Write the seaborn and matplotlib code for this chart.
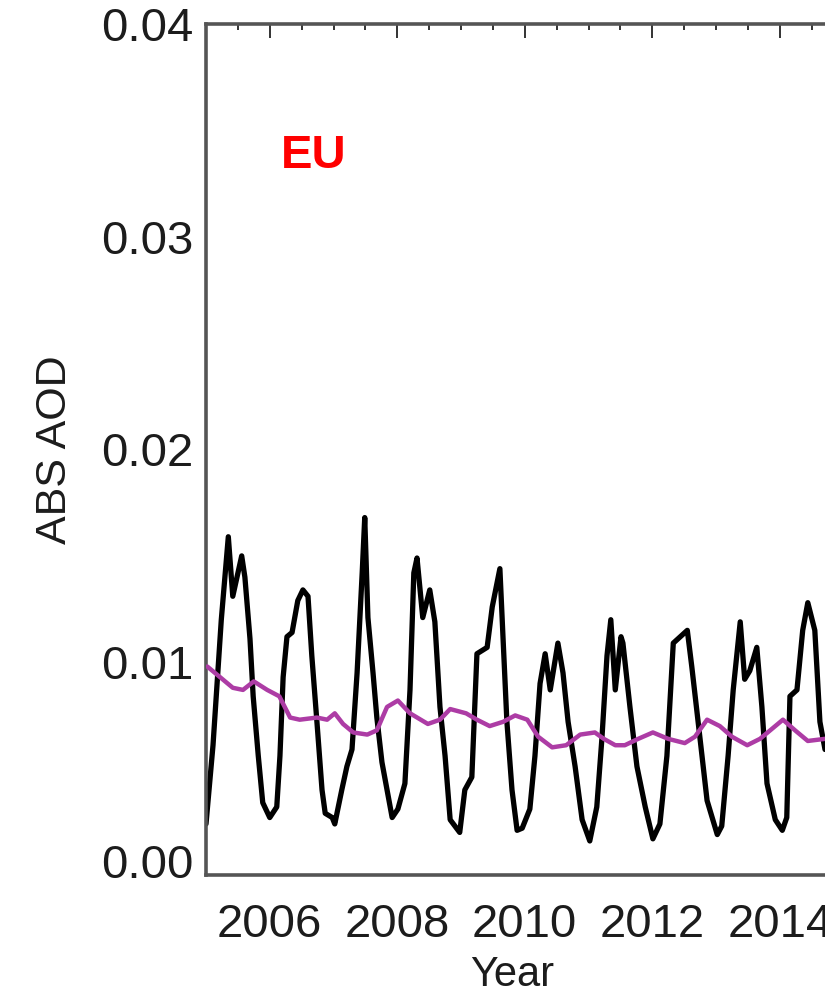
import matplotlib
matplotlib.use("Agg")
import matplotlib.pyplot as plt
from matplotlib.ticker import MultipleLocator, FixedLocator, FixedFormatter
from matplotlib.transforms import ScaledTranslation
import numpy as np
import pandas as pd
import seaborn as sns

# Monthly-ish absorbing AOD over Europe
years_obs = [2005.00, 2005.11, 2005.24, 2005.35, 2005.42, 2005.56, 2005.61, 2005.69,
             2005.74, 2005.82, 2005.89, 2006.00, 2006.11, 2006.16, 2006.21, 2006.27,
             2006.35, 2006.44, 2006.52, 2006.60, 2006.66, 2006.74, 2006.82, 2006.87,
             2006.98, 2007.02, 2007.13, 2007.21, 2007.29, 2007.37, 2007.45, 2007.49,
             2007.54, 2007.62, 2007.68, 2007.76, 2007.84, 2007.92, 2008.01, 2008.12,
             2008.20, 2008.26, 2008.31, 2008.40, 2008.51, 2008.59, 2008.67, 2008.75,
             2008.83, 2008.98, 2009.06, 2009.17, 2009.25, 2009.41, 2009.49, 2009.61,
             2009.66, 2009.72, 2009.80, 2009.88, 2009.96, 2010.08, 2010.16, 2010.24,
             2010.32, 2010.40, 2010.52, 2010.60, 2010.68, 2010.79, 2010.90, 2011.02,
             2011.13, 2011.21, 2011.29, 2011.35, 2011.42, 2011.51, 2011.54, 2011.65,
             2011.76, 2011.89, 2012.01, 2012.12, 2012.23, 2012.33, 2012.55, 2012.62,
             2012.75, 2012.86, 2013.02, 2013.09, 2013.19, 2013.27, 2013.38, 2013.45,
             2013.53, 2013.64, 2013.72, 2013.80, 2013.93, 2014.04, 2014.11, 2014.16,
             2014.27, 2014.36, 2014.44, 2014.55, 2014.63, 2014.71]
aod_obs = [0.0024, 0.0061, 0.0120, 0.0159, 0.0131, 0.0150, 0.0140, 0.0111,
           0.0084, 0.0056, 0.0034, 0.0027, 0.0032, 0.0056, 0.0093, 0.0112,
           0.0114, 0.0129, 0.0134, 0.0131, 0.0103, 0.0072, 0.0040, 0.0029,
           0.0027, 0.0024, 0.0040, 0.0051, 0.0059, 0.0095, 0.0142, 0.0168,
           0.0121, 0.0095, 0.0074, 0.0053, 0.0040, 0.0027, 0.0031, 0.0043,
           0.0087, 0.0142, 0.0149, 0.0121, 0.0134, 0.0119, 0.0079, 0.0056,
           0.0026, 0.0020, 0.0040, 0.0046, 0.0104, 0.0107, 0.0126, 0.0144,
           0.0111, 0.0072, 0.0040, 0.0021, 0.0022, 0.0031, 0.0056, 0.0090,
           0.0104, 0.0087, 0.0109, 0.0095, 0.0072, 0.0051, 0.0026, 0.0016,
           0.0032, 0.0064, 0.0103, 0.0120, 0.0087, 0.0112, 0.0109, 0.0079,
           0.0051, 0.0032, 0.0017, 0.0024, 0.0056, 0.0109, 0.0115, 0.0098,
           0.0064, 0.0035, 0.0019, 0.0023, 0.0056, 0.0087, 0.0119, 0.0092,
           0.0096, 0.0107, 0.0079, 0.0043, 0.0026, 0.0021, 0.0027, 0.0084,
           0.0087, 0.0115, 0.0128, 0.0115, 0.0072, 0.0059]

# 12-month running mean
years_mean = [2005.02, 2005.42, 2005.58, 2005.75, 2005.96, 2006.15, 2006.32, 2006.47,
              2006.74, 2006.90, 2007.02, 2007.15, 2007.31, 2007.53, 2007.68, 2007.84,
              2008.01, 2008.20, 2008.48, 2008.67, 2008.83, 2009.08, 2009.25, 2009.45,
              2009.66, 2009.85, 2010.04, 2010.21, 2010.43, 2010.65, 2010.87, 2011.10,
              2011.24, 2011.42, 2011.57, 2011.78, 2012.01, 2012.25, 2012.51, 2012.67,
              2012.86, 2013.06, 2013.25, 2013.49, 2013.69, 2013.85, 2014.05, 2014.24,
              2014.44, 2014.71]
aod_mean = [0.0098, 0.0088, 0.0087, 0.0091, 0.0087, 0.0084, 0.0074, 0.0073,
            0.0074, 0.0073, 0.0076, 0.0071, 0.0067, 0.0066, 0.0068, 0.0079,
            0.0082, 0.0076, 0.0071, 0.0073, 0.0078, 0.0076, 0.0073, 0.0070,
            0.0072, 0.0075, 0.0073, 0.0065, 0.0060, 0.0061, 0.0066, 0.0067,
            0.0064, 0.0061, 0.0061, 0.0064, 0.0067, 0.0064, 0.0062, 0.0065,
            0.0073, 0.0070, 0.0065, 0.0061, 0.0064, 0.0068, 0.0073, 0.0068,
            0.0063, 0.0064]

y_ticks = [0.00, 0.01, 0.02, 0.03, 0.04]
y_tick_labels = ["0.00", "0.01", "0.02", "0.03", "0.04"]
x_ticks = [2006, 2008, 2010, 2012, 2014]
x_tick_labels = ["2006", "2008", "2010", "2012", "2014"]
region_label = "EU"

sns.set_theme(style="white")
plt.rcParams["font.family"] = ["Liberation Sans", "DejaVu Sans"]

df_obs = pd.DataFrame({"Year": years_obs, "AOD": aod_obs})
df_mean = pd.DataFrame({"Year": years_mean, "AOD": aod_mean})

fig = plt.figure(figsize=(8.25, 9.99), dpi=100)
ax = fig.add_axes([206 / 825, 1 - 875 / 999, 637.5 / 825, 851 / 999])

sns.lineplot(data=df_obs, x="Year", y="AOD", ax=ax, color="black", lw=3.8,
             estimator=None, sort=False, zorder=2)
sns.lineplot(data=df_mean, x="Year", y="AOD", ax=ax, color="#ad3ca5", lw=3.2,
             estimator=None, sort=False, zorder=3)

ax.set_xlim(2005, 2015)
ax.set_ylim(0, 0.04)

ax.xaxis.set_major_locator(FixedLocator(x_ticks))
ax.xaxis.set_major_formatter(FixedFormatter(x_tick_labels))
ax.xaxis.set_minor_locator(MultipleLocator(0.5))
ax.yaxis.set_major_locator(FixedLocator(y_ticks))
ax.yaxis.set_major_formatter(FixedFormatter(y_tick_labels))
ax.yaxis.set_minor_locator(MultipleLocator(0.001))

for side in ["left", "right", "top", "bottom"]:
    ax.spines[side].set_visible(True)
    ax.spines[side].set_color("#555555")
    ax.spines[side].set_linewidth(2.6)

tick_font = 34
ax.tick_params(which="both", direction="in", top=True, right=True,
               color="#333333", width=1.4)
ax.tick_params(which="major", length=10)
ax.tick_params(which="minor", length=4.5)
ax.tick_params(axis="y", which="major", pad=9, labelsize=tick_font, labelcolor="#1c1c1c")
ax.tick_params(axis="x", which="major", pad=20, labelsize=tick_font, labelcolor="#1c1c1c")

# lift the lowest y label clear of the corner
zero_label = ax.get_yticklabels()[0]
zero_label.set_transform(zero_label.get_transform()
                         + ScaledTranslation(0, 0.14, fig.dpi_scale_trans))

ax.set_xlabel("Year", fontsize=30, color="#1c1c1c", va="center")
ax.xaxis.set_label_coords(0.48, -0.1175)
ax.set_ylabel("ABS AOD", fontsize=31, color="#1c1c1c", va="center")
ax.yaxis.set_label_coords(-0.237, 0.5)

ax.text(2006.69, 0.0338, region_label, color="#ff0000", fontsize=34,
        fontweight="bold", ha="center", va="center")

fig.savefig("out.png", dpi=100)
